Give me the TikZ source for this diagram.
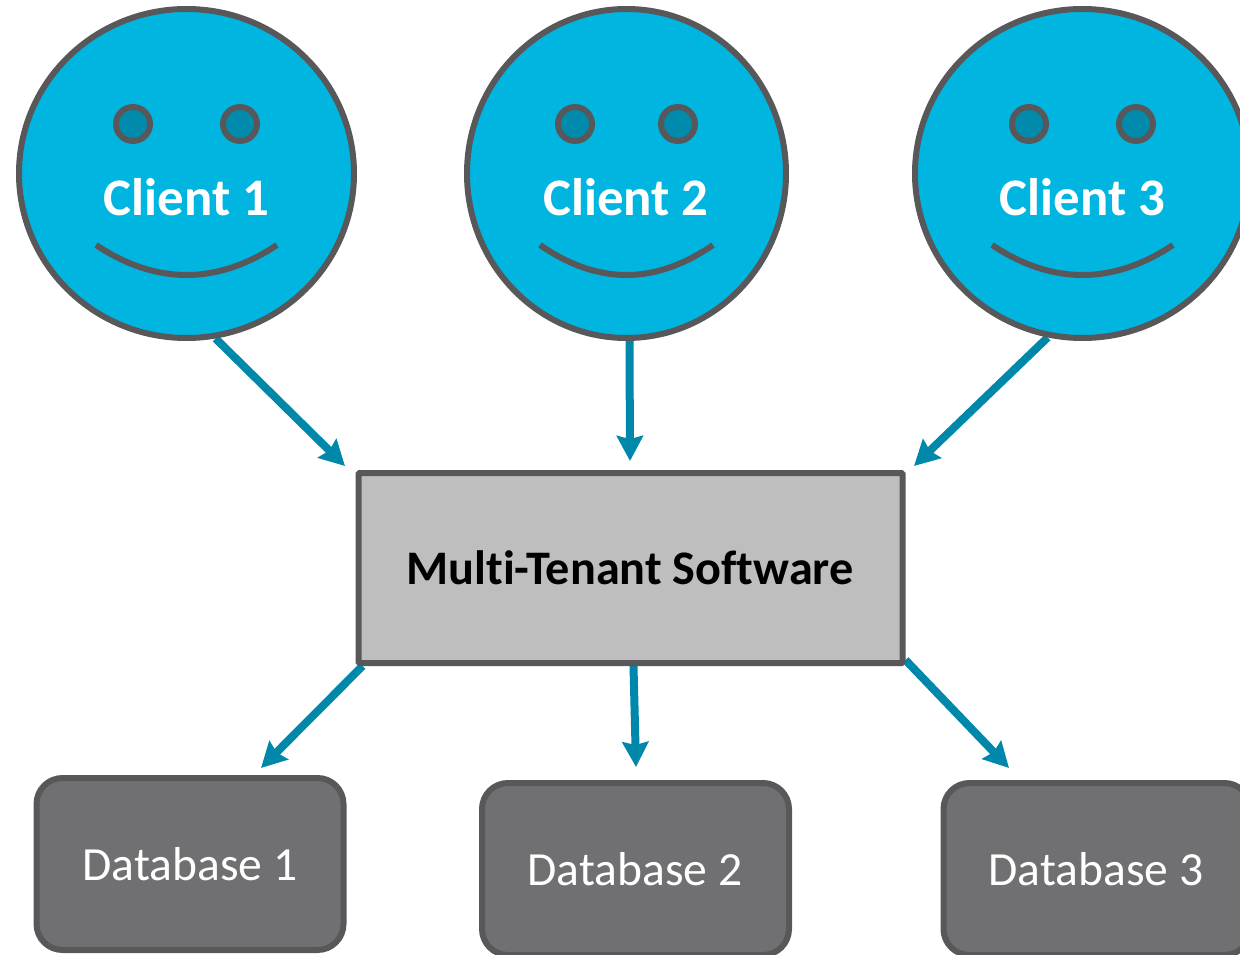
\documentclass[tikz,border=0pt]{standalone}
\usepackage{fontspec}
\setmainfont[Ligatures=NoCommon]{Carlito}
\usetikzlibrary{shapes.geometric,arrows.meta,backgrounds}
\definecolor{cfill}{HTML}{00B5E0}
\definecolor{cline}{HTML}{58585A}
\definecolor{ceye}{HTML}{008AAB}
\definecolor{carrow}{HTML}{0088AA}
\definecolor{cbox}{HTML}{BEBEBE}
\definecolor{cdb}{HTML}{707072}
\tikzset{
  face/.style={ellipse,draw=cline,fill=cfill,line width=6pt,inner sep=0pt},
  eye/.style={circle,draw=cline,fill=ceye,line width=6pt,inner sep=0pt,minimum size=34pt},
  smile/.style={draw=cline,line width=6pt},
  clabel/.style={anchor=base,text=white,font=\fontsize{52.8}{52.8}\selectfont\bfseries,inner sep=0pt},
  dblabel/.style={anchor=base,text=white,font=\fontsize{47.6}{47.6}\selectfont,inner sep=0pt},
  swbox/.style={rectangle,draw=cline,fill=cbox,line width=6pt,inner sep=0pt,rounded corners=1pt,minimum width=544pt,minimum height=190pt},
  swlabel/.style={anchor=base,text=black,font=\fontsize{48.2}{48.2}\selectfont\bfseries,inner sep=0pt},
  dbbox/.style={rectangle,draw=cline,fill=cdb,line width=6pt,inner sep=0pt,rounded corners=26pt,minimum width=307pt,minimum height=172pt},
  link/.style={draw=carrow,line width=8pt,-{Stealth[length=25pt,width=26pt,inset=3pt]}}
}
\begin{document}
\begin{tikzpicture}[x=1pt,y=-1pt]
\useasboundingbox (0,0) rectangle (1240,955);
% clients
\node[face,minimum width=335pt,minimum height=329pt] (c1) at (186.5,173.5) {};
\node[face,minimum width=319pt,minimum height=329pt] (c2) at (626.5,173.5) {};
\node[face,minimum width=335pt,minimum height=329pt] (c3) at (1082.5,173.5) {};
\node[eye] (e1a) at (133,124) {};
\node[eye] (e1b) at (240,124) {};
\node[eye] (e2a) at (575,124) {};
\node[eye] (e2b) at (678,124) {};
\node[eye] (e3a) at (1029,124) {};
\node[eye] (e3b) at (1136,124) {};
\node[clabel] (l1) at (186.5,215) {Client 1};
\node[clabel] (l2) at (626,215) {Client 2};
\node[clabel] (l3) at (1082.5,215) {Client 3};
\draw[smile] (96,245) .. controls (156,285) and (217,285) .. (277,245);
\draw[smile] (540,245) .. controls (598,285) and (655,285) .. (713,245);
\draw[smile] (992,245) .. controls (1052,285) and (1113,285) .. (1173,245);
% software
\node[swbox] (sw) at (630.5,568) {};
\node[swlabel] (swl) at (630,584.5) {Multi-Tenant Software};
% databases
\node[dbbox] (d1) at (190,864) {};
\node[dbbox] (d2) at (635.5,869) {};
\node[dbbox] (d3) at (1097,869) {};
\node[dblabel] (dl1) at (190,880) {Database 1};
\node[dblabel] (dl2) at (635,885) {Database 2};
\node[dblabel] (dl3) at (1096,885) {Database 3};
% arrow tips
\coordinate (t1) at (345,466);
\coordinate (t2) at (630,461);
\coordinate (t3) at (914,466);
\coordinate (t4) at (261,768);
\coordinate (t5) at (636,767);
\coordinate (t6) at (1009,768);
\begin{scope}[on background layer]
\draw[link] (c1.-80) -- (t1);
\draw[link] ([xshift=3pt]c2.south) -- (t2);
\draw[link] (c3.-102) -- (t3);
\draw[link] ([xshift=7pt]sw.south west) -- (t4);
\draw[link] ([xshift=3pt]sw.south) -- (t5);
\draw[link] ([yshift=6pt]sw.south east) -- (t6);
\end{scope}
\end{tikzpicture}
\end{document}
